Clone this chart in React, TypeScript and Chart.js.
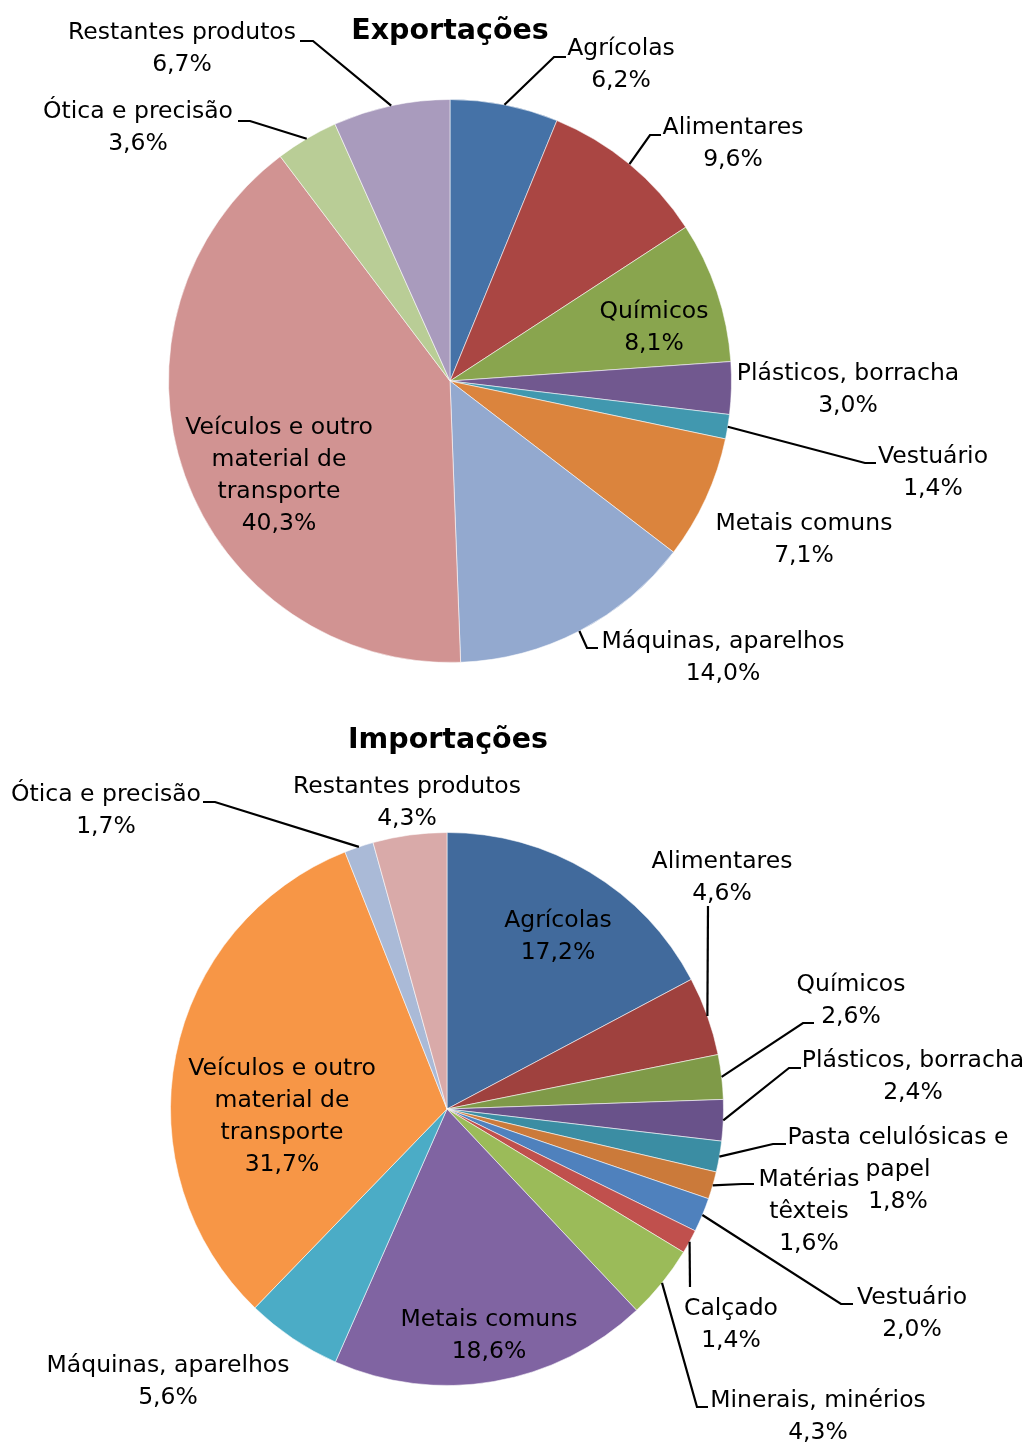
import React, { useEffect, useRef } from "react";
import { Chart, registerables } from "chart.js";

Chart.register(...registerables);

// ---------- Data ----------
const exportCategories = [
  "Agrícolas",
  "Alimentares",
  "Químicos",
  "Plásticos, borracha",
  "Vestuário",
  "Metais comuns",
  "Máquinas, aparelhos",
  "Veículos e outro material de transporte",
  "Ótica e precisão",
  "Restantes produtos",
];
const exportValues = [6.2, 9.6, 8.1, 3.0, 1.4, 7.1, 14.0, 40.3, 3.6, 6.7];
const exportColors = [
  "#4572A7", "#AA4643", "#89A54E", "#71588F", "#4198AF",
  "#DB843D", "#93A9CF", "#D19392", "#B9CD96", "#A99BBD",
];

const importCategories = [
  "Agrícolas",
  "Alimentares",
  "Químicos",
  "Plásticos, borracha",
  "Pasta celulósicas e papel",
  "Matérias têxteis",
  "Vestuário",
  "Calçado",
  "Minerais, minérios",
  "Metais comuns",
  "Máquinas, aparelhos",
  "Veículos e outro material de transporte",
  "Ótica e precisão",
  "Restantes produtos",
];
const importValues = [17.2, 4.6, 2.6, 2.4, 1.8, 1.6, 2.0, 1.4, 4.3, 18.6, 5.6, 31.7, 1.7, 4.3];
const importColors = [
  "#416A9C", "#9F413E", "#7F9A48", "#69528A", "#3B8DA3", "#CB7A3A",
  "#4F81BD", "#C0504D", "#9BBB59", "#8064A2", "#4BACC6", "#F79646",
  "#AABAD7", "#D9AAA9",
];

// ---------- Label layout (text wrapping, label centres, leader elbows) ----------
type LabelLayout = {
  lines: string[];
  x: number;
  y: number; // centre of first line
  leader?: number[][]; // points after the arc edge point
};

const exportLabels: LabelLayout[] = [
  { lines: ["Agrícolas"], x: 621, y: 47, leader: [[554, 57], [566, 57]] },
  { lines: ["Alimentares"], x: 733, y: 126, leader: [[650, 135], [661, 135]] },
  { lines: ["Químicos"], x: 654, y: 310 },
  { lines: ["Plásticos, borracha"], x: 848, y: 372 },
  { lines: ["Vestuário"], x: 933, y: 455, leader: [[865, 463], [876, 463]] },
  { lines: ["Metais comuns"], x: 804, y: 522 },
  { lines: ["Máquinas, aparelhos"], x: 723, y: 640, leader: [[587, 648], [598, 648]] },
  { lines: ["Veículos e outro", "material de", "transporte"], x: 279, y: 426 },
  { lines: ["Ótica e precisão"], x: 138, y: 110, leader: [[250, 121], [238, 121]] },
  { lines: ["Restantes produtos"], x: 182, y: 31, leader: [[313, 41], [300, 41]] },
];

const importLabels: LabelLayout[] = [
  { lines: ["Agrícolas"], x: 558, y: 204 },
  { lines: ["Alimentares"], x: 722, y: 145, leader: [[708, 191]] },
  { lines: ["Químicos"], x: 851, y: 268, leader: [[803, 308], [814, 308]] },
  { lines: ["Plásticos, borracha"], x: 913, y: 344, leader: [[789, 353], [801, 353]] },
  { lines: ["Pasta celulósicas e", "papel"], x: 898, y: 421, leader: [[773, 429], [786, 429]] },
  { lines: ["Matérias", "têxteis"], x: 809, y: 463, leader: [[742, 469], [754, 469]] },
  { lines: ["Vestuário"], x: 912, y: 581, leader: [[841, 589], [853, 589]] },
  { lines: ["Calçado"], x: 731, y: 592, leader: [[690, 572]] },
  { lines: ["Minerais, minérios"], x: 818, y: 684, leader: [[697, 692], [708, 692]] },
  { lines: ["Metais comuns"], x: 489, y: 603 },
  { lines: ["Máquinas, aparelhos"], x: 168, y: 649 },
  { lines: ["Veículos e outro", "material de", "transporte"], x: 282, y: 352 },
  { lines: ["Ótica e precisão"], x: 106, y: 78, leader: [[215, 87], [203, 87]] },
  { lines: ["Restantes produtos"], x: 407, y: 70 },
];

const FONT = '"DejaVu Sans", "Noto Sans", sans-serif';
const LINE_H = 32;
const TEXT_DY = 1.5;

function fmt(v: number) {
  return v.toFixed(1).replace(".", ",") + "%";
}

function makeLabelPlugin(title: string, titleY: number, titleX: number, labels: LabelLayout[], values: number[]) {
  return {
    id: "customLabels",
    afterDraw(chart: any) {
      const ctx = chart.ctx;
      const meta = chart.getDatasetMeta(0);
      ctx.save();
      // title
      ctx.fillStyle = "#000";
      ctx.font = `bold 28.5px ${FONT}`;
      ctx.textAlign = "center";
      ctx.textBaseline = "middle";
      ctx.fillText(title, titleX, titleY + 2);

      ctx.font = `23.5px ${FONT}`;
      labels.forEach((lab, i) => {
        const arc = meta.data[i] as any;
        const lines = [...lab.lines, fmt(values[i])];
        lines.forEach((t, k) => {
          ctx.fillText(t, lab.x, lab.y + TEXT_DY + k * LINE_H);
        });
        if (lab.leader) {
          const mid = (arc.startAngle + arc.endAngle) / 2;
          const sx = arc.x + Math.cos(mid) * arc.outerRadius;
          const sy = arc.y + Math.sin(mid) * arc.outerRadius;
          ctx.beginPath();
          ctx.strokeStyle = "#000";
          ctx.lineWidth = 2.2;
          ctx.moveTo(sx, sy);
          lab.leader.forEach((p) => ctx.lineTo(p[0], p[1]));
          ctx.stroke();
        }
      });
      ctx.restore();
    },
  };
}

function PieChart(props: {
  width: number;
  height: number;
  categories: string[];
  values: number[];
  colors: string[];
  labels: LabelLayout[];
  title: string;
  titleX: number;
  titleY: number;
  padding: { left: number; right: number; top: number; bottom: number };
}) {
  const ref = useRef<HTMLCanvasElement | null>(null);
  useEffect(() => {
    if (!ref.current) return;
    const chart = new Chart(ref.current, {
      type: "pie",
      data: {
        labels: props.categories,
        datasets: [
          {
            data: props.values,
            backgroundColor: props.colors,
            borderColor: "rgba(255,255,255,0.55)",
            borderWidth: 1,
          },
        ],
      },
      options: {
        responsive: false,
        animation: false,
        devicePixelRatio: 1,
        layout: { padding: props.padding },
        plugins: {
          legend: { display: false },
          tooltip: { enabled: false },
          title: { display: false },
        },
      },
      plugins: [makeLabelPlugin(props.title, props.titleY, props.titleX, props.labels, props.values)],
    } as any);
    return () => chart.destroy();
  }, []);
  return (
    <canvas
      ref={ref}
      width={props.width}
      height={props.height}
      style={{ display: "block", width: props.width, height: props.height }}
    />
  );
}

export default function App() {
  return (
    <div style={{ position: "absolute", left: 0, top: 0, width: 1024, height: 1443, background: "#fff" }}>
      <PieChart
        width={1024}
        height={715}
        categories={exportCategories}
        values={exportValues}
        colors={exportColors}
        labels={exportLabels}
        title="Exportações"
        titleX={450}
        titleY={30}
        padding={{ left: 168, right: 292, top: 99, bottom: 52 }}
      />
      <PieChart
        width={1024}
        height={728}
        categories={importCategories}
        values={importValues}
        colors={importColors}
        labels={importLabels}
        title="Importações"
        titleX={448}
        titleY={24}
        padding={{ left: 170, right: 300, top: 117, bottom: 57 }}
      />
    </div>
  );
}
